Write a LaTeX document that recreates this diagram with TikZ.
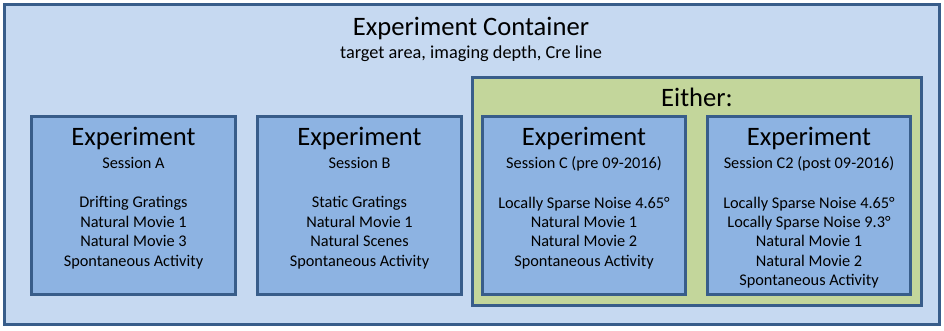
\documentclass[tikz,border=0pt]{standalone}
\usepackage{fontspec}
\setmainfont{Carlito}
\definecolor{outerfill}{RGB}{198,217,241}
\definecolor{bordercol}{RGB}{56,93,138}
\definecolor{boxfill}{RGB}{141,179,226}
\definecolor{greenfill}{RGB}{195,214,155}
\begin{document}
\begin{tikzpicture}[x=1pt,y=-1pt,
  frame/.style={draw=bordercol,line width=3pt,inner sep=0pt,outer sep=0pt},
  bigtxt/.style={anchor=base,inner sep=0pt,font=\fontsize{26.6}{30}\selectfont},
  subtxt/.style={anchor=base,inner sep=0pt,font=\fontsize{16.3}{19}\selectfont},
  toptxt/.style={anchor=base,inner sep=0pt,font=\fontsize{18.3}{21}\selectfont},
  listtxt/.style={anchor=north,inner sep=0pt,align=center,font=\fontsize{16.3}{19.45}\selectfont}]
\useasboundingbox (0,0) rectangle (944,330);
\path[fill=white] (0,0) rectangle (944,330);
% containers
\draw[frame,fill=outerfill] (4.5,4.5) rectangle (939.5,324.5);
\draw[frame,fill=greenfill] (472.5,77.5) rectangle (921.5,305.5);
\draw[frame,fill=boxfill] (31.5,116.5) rectangle (235.5,294.5);
\draw[frame,fill=boxfill] (257.5,116.5) rectangle (461.5,294.5);
\draw[frame,fill=boxfill] (482.5,116.5) rectangle (685.5,294.5);
\draw[frame,fill=boxfill] (707.5,116.5) rectangle (910.5,294.5);
% titles
\node[bigtxt] (title) at (471,35.5) {Experiment Container};
\node[toptxt] (sub) at (471,58) {target area, imaging depth, Cre line};
\node[bigtxt] (either) at (697,106) {Either:};
% box A
\node[bigtxt] (ea) at (133.5,145) {Experiment};
\node[subtxt] (sa) at (133.5,168) {Session A};
\node[listtxt] (la) at (133.5,196.5) {Drifting Gratings\\Natural Movie 1\\Natural Movie 3\\Spontaneous Activity};
% box B
\node[bigtxt] (eb) at (359.5,145) {Experiment};
\node[subtxt] (sb) at (359.5,168) {Session B};
\node[listtxt] (lb) at (359.5,196.5) {Static Gratings\\Natural Movie 1\\Natural Scenes\\Spontaneous Activity};
% box C
\node[bigtxt] (ec) at (584,145) {Experiment};
\node[subtxt] (sc) at (584,168) {Session C (pre 09-2016)};
\node[listtxt] (lc) at (584,196.5) {Locally Sparse Noise 4.65°\\Natural Movie 1\\Natural Movie 2\\Spontaneous Activity};
% box C2
\node[bigtxt] (ec2) at (809,145) {Experiment};
\node[subtxt] (sc2) at (809,168) {Session C2 (post 09-2016)};
\node[listtxt] (lc2) at (809,196.5) {Locally Sparse Noise 4.65°\\Locally Sparse Noise 9.3°\\Natural Movie 1\\Natural Movie 2\\Spontaneous Activity};
\end{tikzpicture}
\end{document}
